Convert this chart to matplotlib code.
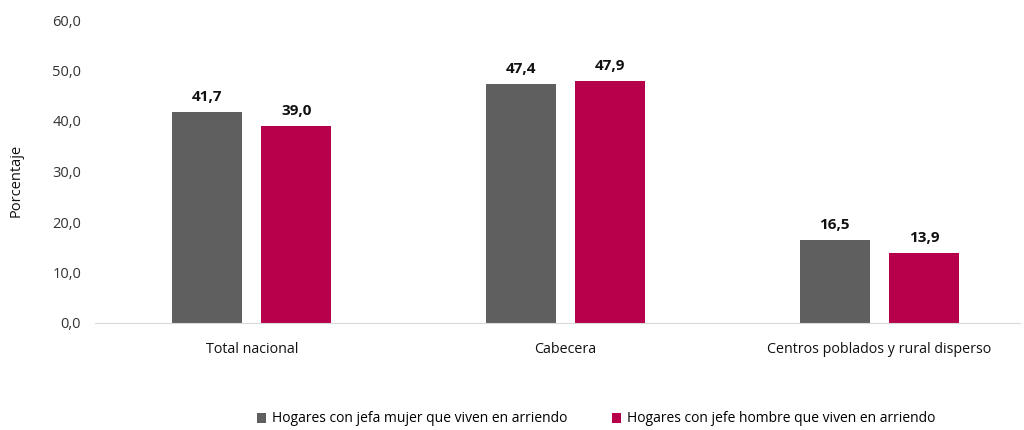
import matplotlib.pyplot as plt
import numpy as np

plt.rcParams['font.family'] = ['Open Sans', 'DejaVu Sans']

# Datos
categorias = ['Total nacional', 'Cabecera', 'Centros poblados y rural disperso']
jefa_mujer = [41.7, 47.4, 16.5]
jefe_hombre = [39.0, 47.9, 13.9]
series = ['Hogares con jefa mujer que viven en arriendo',
          'Hogares con jefe hombre que viven en arriendo']
yticks = [0, 10, 20, 30, 40, 50, 60]

fig = plt.figure(figsize=(10.24, 4.3), dpi=100)
ax = fig.add_axes([95 / 1024, 1 - 323 / 430, 925 / 1024, 303 / 430])

x = np.arange(len(categorias))
w = 0.223
off = 0.142
b1 = ax.bar(x - off, jefa_mujer, w, color='#5f5f5f', label=series[0])
b2 = ax.bar(x + off, jefe_hombre, w, color='#b7004b', label=series[1])

for bars, vals in [(b1, jefa_mujer), (b2, jefe_hombre)]:
    for b, v in zip(bars, vals):
        ax.text(b.get_x() + b.get_width() / 2, v + 1.6, f'{v:.1f}'.replace('.', ','),
                ha='center', va='bottom', fontsize=11, fontweight='bold', color='#111111')

ax.set_xlim(-0.5, 2.448)
ax.set_ylim(0, 60)
ax.set_yticks(yticks)
ax.set_yticklabels([f'{t:.1f}'.replace('.', ',') for t in yticks], fontsize=10.5, color='#333333')
ax.set_xticks(x)
ax.set_xticklabels(categorias, fontsize=10.3, color='#111111')
ax.tick_params(axis='y', length=0, pad=10)
ax.tick_params(axis='x', length=0, pad=14)
for s in ['top', 'right', 'left']:
    ax.spines[s].set_visible(False)
ax.spines['bottom'].set_color('#d9d9d9')
ax.set_ylabel('Porcentaje', fontsize=10.5, color='#111111', labelpad=18)
ax.yaxis.set_label_coords(-0.077, 0.47)

fig.legend(handles=[b1, b2], loc='center', bbox_to_anchor=(596 / 1024, 1 - 419 / 430),
           ncol=2, frameon=False, fontsize=10, handlelength=0.7, handleheight=0.7,
           handletextpad=0.4, columnspacing=3.2)

fig.savefig('out.png', dpi=100)
